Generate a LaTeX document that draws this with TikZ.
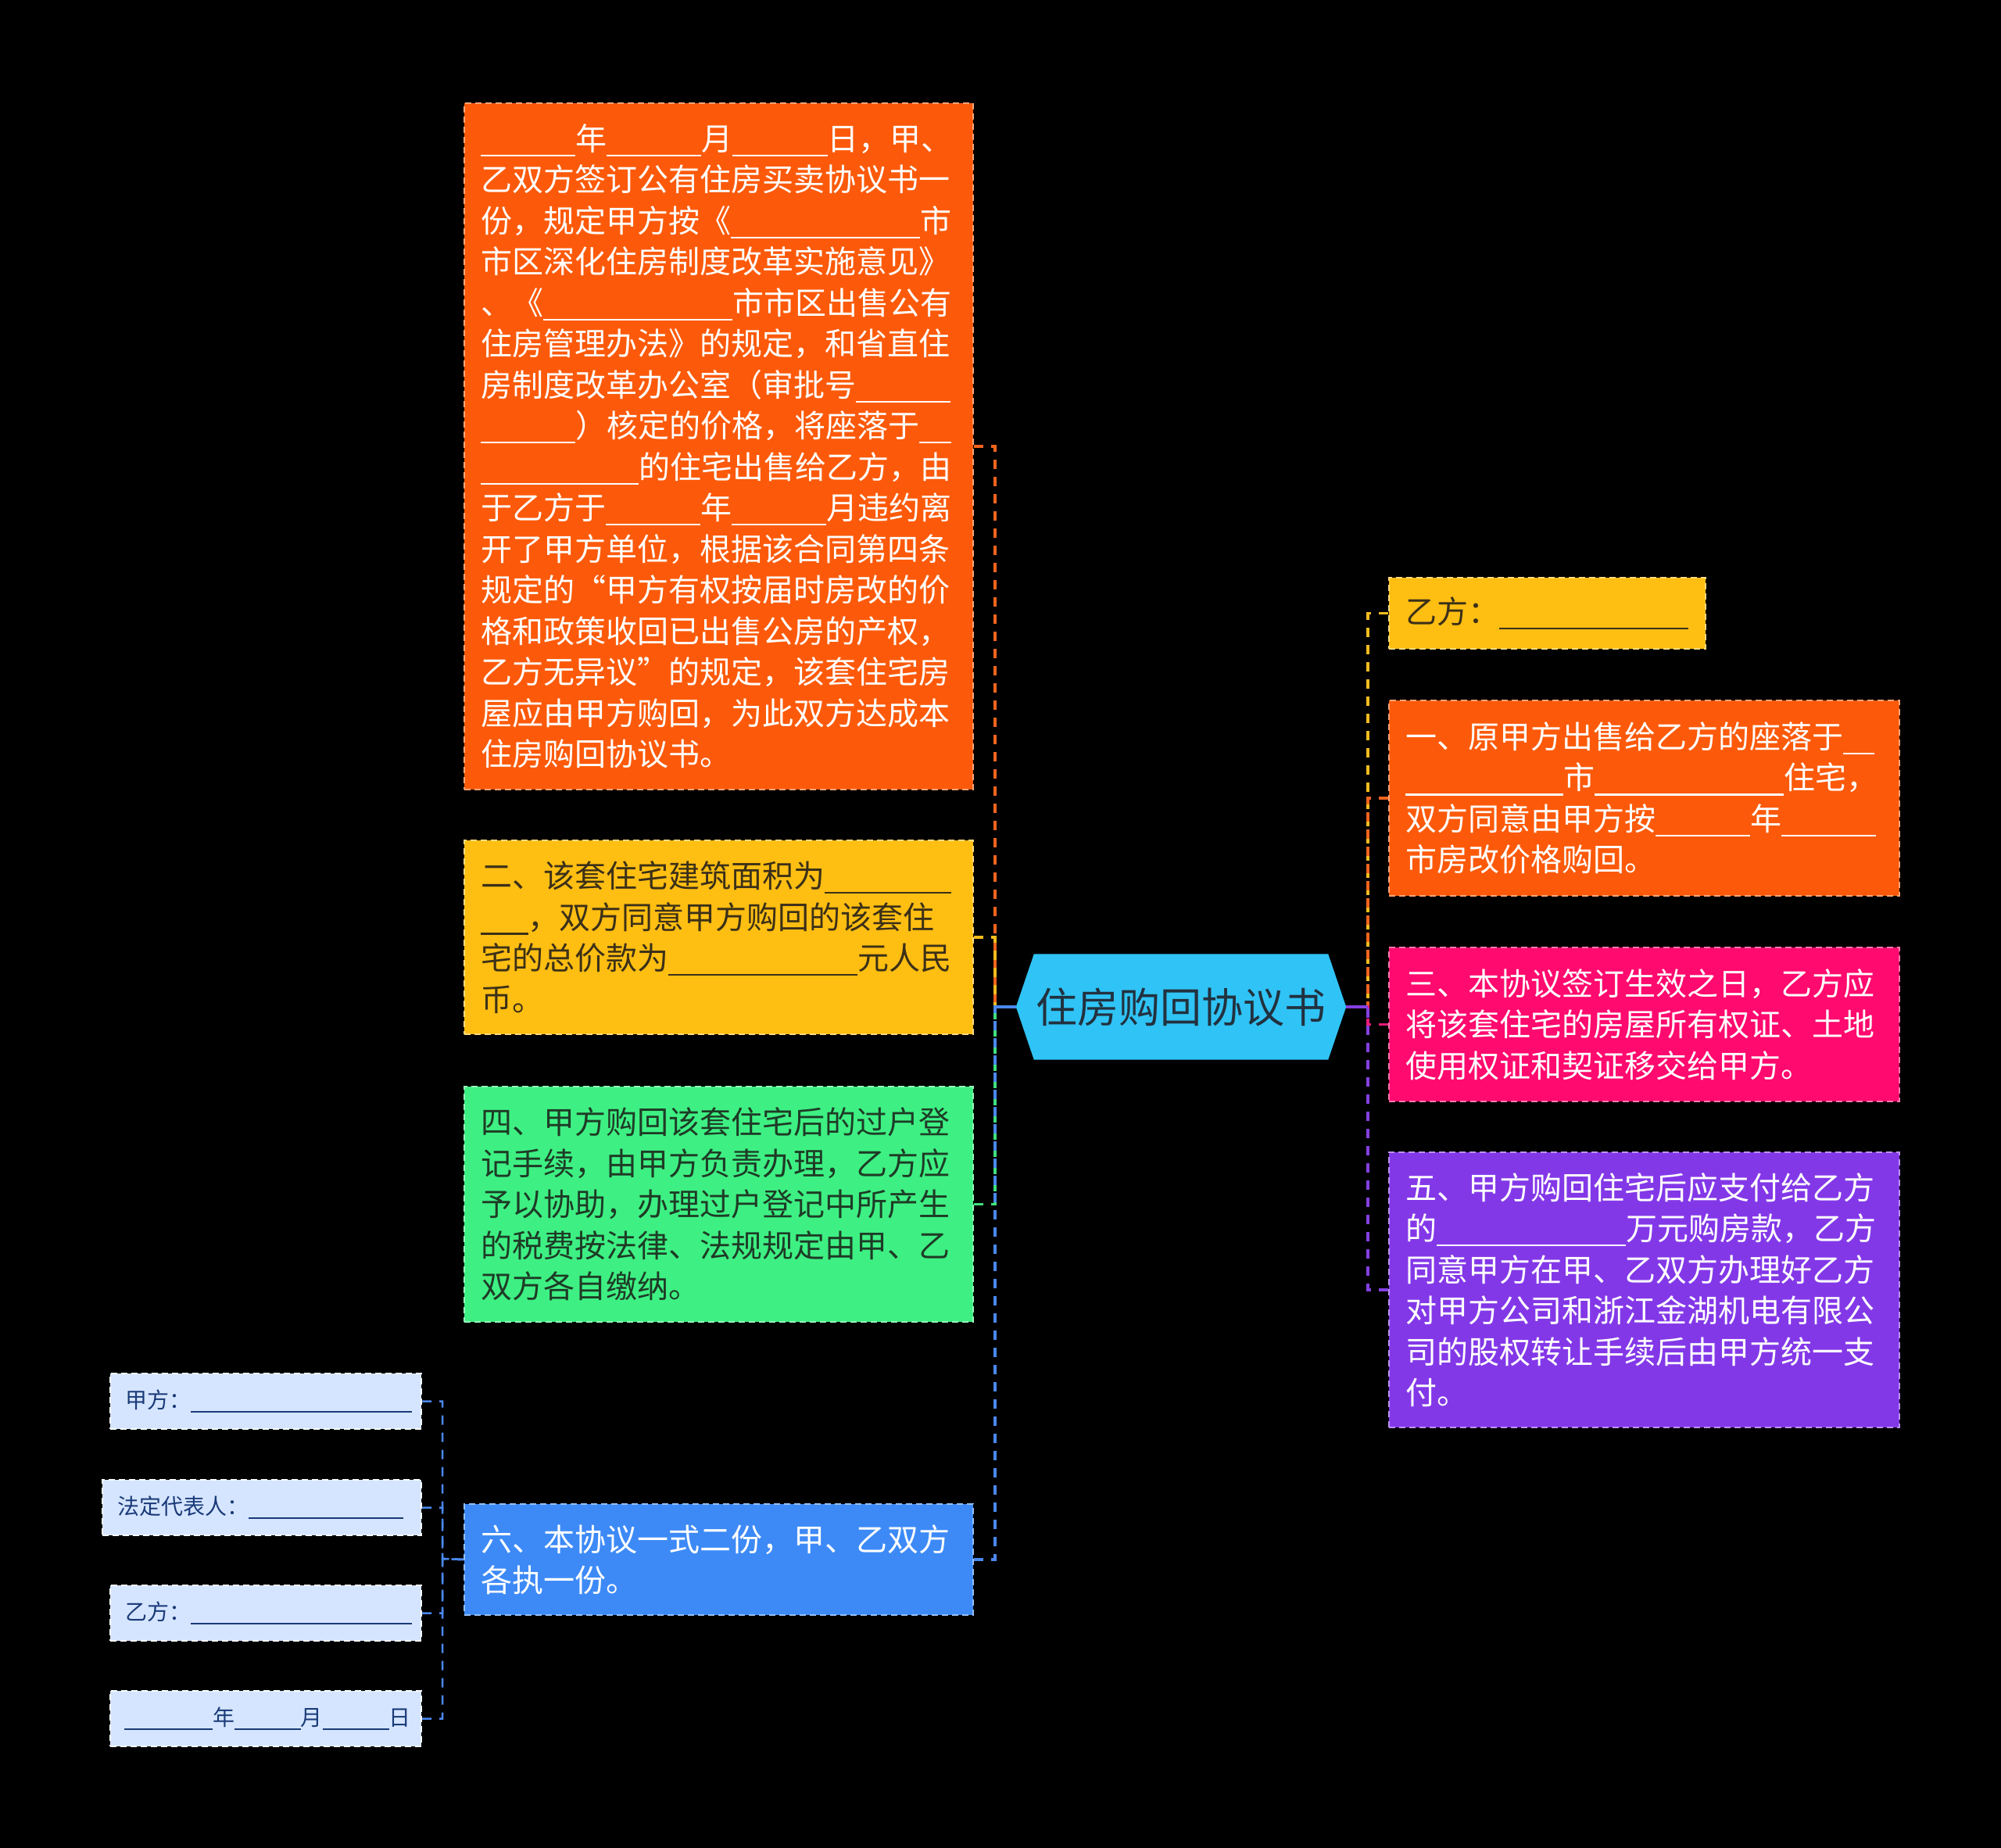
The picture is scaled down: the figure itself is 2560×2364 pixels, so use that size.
\documentclass[tikz,border=0pt]{standalone}
\usepackage{fontspec}
\setmainfont{Noto Sans CJK SC}
\usetikzlibrary{calc}
\newcommand\blanks[1]{\rule[-0.19em]{\dimexpr 0.505em*#1\relax}{0.06em}}
\definecolor{cOrange}{HTML}{FC5A0A}
\definecolor{cYellow}{HTML}{FFBE12}
\definecolor{cGreen}{HTML}{3EF083}
\definecolor{cBlue}{HTML}{3D8AF7}
\definecolor{cLight}{HTML}{D5E5FF}
\definecolor{cPink}{HTML}{FF0A6E}
\definecolor{cPurple}{HTML}{8338E8}
\definecolor{cCyan}{HTML}{30C3F5}
\definecolor{lOrange}{HTML}{F2641E}
\definecolor{lYellow}{HTML}{F5BC1E}
\definecolor{lGreen}{HTML}{3FE07E}
\definecolor{lBlue}{HTML}{4A88EE}
\definecolor{lPink}{HTML}{EA1C78}
\definecolor{lPurple}{HTML}{8540E2}
\definecolor{tDark}{HTML}{3B3018}
\definecolor{tGreen}{HTML}{1E3B26}
\definecolor{tNavy}{HTML}{1A3A78}
\definecolor{tRoot}{HTML}{22313F}
\pgfdeclarelayer{bg}
\pgfsetlayers{bg,main}
\begin{document}
\begin{tikzpicture}[x=1pt,y=-1pt,
  box/.style={anchor=north west, inner xsep=21pt, inner ysep=0pt, align=left,
    font=\fontsize{40}{52.5}\selectfont, line width=2pt, dash pattern=on 8pt off 5pt},
  small/.style={anchor=north west, inner xsep=19pt, inner ysep=0pt, align=left,
    font=\fontsize{28}{36}\selectfont, line width=2pt, dash pattern=on 8pt off 5pt,
    fill=cLight, draw=white!85!cLight, text=tNavy, minimum height=71pt},
  conn/.style={line width=3.5pt, dash pattern=on 12pt off 10pt},
  solidc/.style={line width=3.5pt},
  rootnode/.style={minimum width=422pt, minimum height=135pt, inner sep=0pt,
    font=\fontsize{53}{60}\selectfont, text=tRoot}
]
\begin{pgfonlayer}{bg}
\fill[black] (0,0) rectangle (2560,2364);
\end{pgfonlayer}
\useasboundingbox (0,0) rectangle (2560,2364);

% root
\node[rootnode] (root) at (1511,1288) {住房购回协议书};
\begin{pgfonlayer}{bg}
\fill[cCyan] (root.west) -- ($(root.north west)+(23,0)$) -- ($(root.north east)+(-23,0)$)
  -- (root.east) -- ($(root.south east)+(-23,0)$) -- ($(root.south west)+(23,0)$) -- cycle;
\end{pgfonlayer}

% left column
\node[box, fill=cOrange, draw=cOrange!55!white, text=white, text width=609pt, minimum height=878pt] (b1) at (593,131) {%
\blanks{6}年\blanks{6}月\blanks{6}日，甲、\\
乙双方签订公有住房买卖协议书一\\
份，规定甲方按《\blanks{12}市\\
市区深化住房制度改革实施意见》\\
、《\blanks{12}市市区出售公有\\
住房管理办法》的规定，和省直住\\
房制度改革办公室（审批号\blanks{6}\\
\blanks{6}）核定的价格，将座落于\blanks{2}\\
\blanks{10}的住宅出售给乙方，由\\
于乙方于\blanks{6}年\blanks{6}月违约离\\
开了甲方单位，根据该合同第四条\\
规定的“甲方有权按届时房改的价\\
格和政策收回已出售公房的产权，\\
乙方无异议”的规定，该套住宅房\\
屋应由甲方购回，为此双方达成本\\
住房购回协议书。};

\node[box, fill=cYellow, draw=cYellow!55!white, text=tDark, text width=609pt, minimum height=248pt] (b2) at (593,1074) {%
二、该套住宅建筑面积为\blanks{8}\\
\blanks{3}，双方同意甲方购回的该套住\\
宅的总价款为\blanks{12}元人民\\
币。};

\node[box, fill=cGreen, draw=cGreen!55!white, text=tGreen, text width=609pt, minimum height=301pt] (b4) at (593,1389) {%
四、甲方购回该套住宅后的过户登\\
记手续，由甲方负责办理，乙方应\\
予以协助，办理过户登记中所产生\\
的税费按法律、法规规定由甲、乙\\
双方各自缴纳。};

\node[box, fill=cBlue, draw=cBlue!55!white, text=white, text width=609pt, minimum height=142pt] (b6) at (593,1923) {%
六、本协议一式二份，甲、乙双方\\
各执一份。};

% small boxes
\node[small, text width=360pt] (s1) at (140,1756) {甲方：\blanks{20}};
\node[small, text width=370pt] (s2) at (130,1892) {法定代表人：\blanks{14}};
\node[small, text width=360pt] (s3) at (140,2027) {乙方：\blanks{20}};
\node[small, text width=362pt, inner xsep=18pt] (s4) at (140,2162) {\blanks{8}年\blanks{6}月\blanks{6}日};

% right column
\node[box, fill=cYellow, draw=cYellow!55!white, text=tDark, text width=363pt, minimum height=91pt] (r0) at (1776,738) {%
乙方：\blanks{12}};

\node[box, fill=cOrange, draw=cOrange!55!white, text=white, text width=611pt, minimum height=250pt] (r1) at (1776,895) {%
一、原甲方出售给乙方的座落于\blanks{2}\\
\blanks{10}市\blanks{12}住宅，\\
双方同意由甲方按\blanks{6}年\blanks{6}\\
市房改价格购回。};

\node[box, fill=cPink, draw=cPink!55!white, text=white, text width=611pt, minimum height=197pt] (r3) at (1776,1211) {%
三、本协议签订生效之日，乙方应\\
将该套住宅的房屋所有权证、土地\\
使用权证和契证移交给甲方。};

\node[box, fill=cPurple, draw=cPurple!55!white, text=white, text width=611pt, minimum height=352pt] (r5) at (1776,1473) {%
五、甲方购回住宅后应支付给乙方\\
的\blanks{12}万元购房款，乙方\\
同意甲方在甲、乙双方办理好乙方\\
对甲方公司和浙江金湖机电有限公\\
司的股权转让手续后由甲方统一支\\
付。};

% trunks
\coordinate (LT) at (1273,1288);
\coordinate (RT) at (1750,1288);
\coordinate (ST) at (566,1994);

\draw[conn, lOrange] (b1.east) -| (LT) -- (root.west);
\draw[conn, lYellow] (b2.east) -| (LT) -- (root.west);
\draw[conn, lGreen] (b4.east) -| (LT) -- (root.west);
\draw[conn, lBlue] (b6.east) -| (LT) -- (root.west);
\draw[solidc, lBlue] (root.west) -- (LT);

\draw[conn, lYellow] (r0.west) -| (RT) -- (root.east);
\draw[conn, lOrange] (r1.west) -| (RT) -- (root.east);
\draw[conn, lPink] (r3.west) -| (RT) -- (root.east);
\draw[conn, lPurple] (r5.west) -| (RT) -- (root.east);
\draw[solidc, lPurple] (root.east) -- (RT);

\draw[conn, lBlue, line width=2.5pt] (s1.east) -| (ST) -- (b6.west);
\draw[conn, lBlue, line width=2.5pt] (s2.east) -| (ST) -- (b6.west);
\draw[conn, lBlue, line width=2.5pt] (s3.east) -| (ST) -- (b6.west);
\draw[conn, lBlue, line width=2.5pt] (s4.east) -| (ST) -- (b6.west);
\end{tikzpicture}
\end{document}
